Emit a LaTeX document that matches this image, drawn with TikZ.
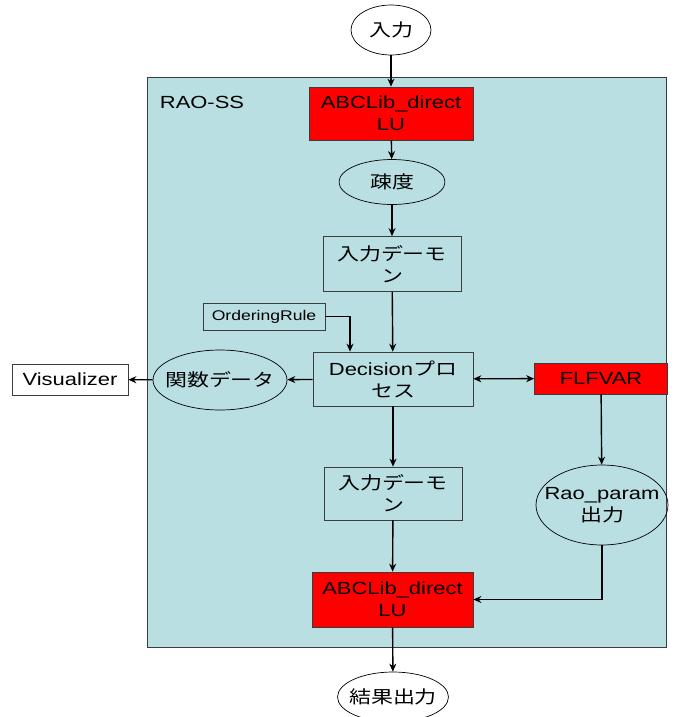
\documentclass[tikz,border=0pt]{standalone}
\usepackage{fontspec}
\setmainfont{Liberation Sans}[FakeStretch=1.25]
\newfontfamily\jp{Noto Sans CJK JP}[FakeStretch=1.25]
\usetikzlibrary{positioning, arrows.meta, shapes.geometric}
\definecolor{raobg}{HTML}{B9DFE3}
\definecolor{boxline}{HTML}{3C3C3C}

\begin{document}
\begin{tikzpicture}[x=0.02cm, y=-0.02cm,
    font=\fontsize{10}{12.5}\selectfont,
    box/.style={draw=boxline, align=center, inner sep=1pt},
    redbox/.style={box, fill=red},
    oval/.style={ellipse, draw=black, inner sep=0pt},
    arr/.style={-{Stealth[length=1.6mm, width=1.4mm]}, line width=0.8pt},
    arrs/.style={{Stealth[length=1.6mm, width=1.4mm]}-{Stealth[length=1.6mm, width=1.4mm]}, line width=0.8pt}]
    \useasboundingbox (0,0) rectangle (675,717);
    \draw[boxline, fill=raobg] (147,77) rectangle (666,647);
    \node (raoss) at (202,102) {RAO-SS};

    \node[oval, fill=white, minimum width=1.6cm, minimum height=1cm, label={center:{\jp 入力}}] (in) at (391,30) {};
    \node[redbox, minimum width=3.28cm, minimum height=1.06cm] (lu1) at (391,113.5) {ABCLib\_direct\\LU};
    \node[oval, minimum width=2.12cm, minimum height=0.9cm, label={center:{\jp 疎度}}] (sparse) at (392,182) {};
    \node[box, minimum width=2.76cm, minimum height=1.1cm] (dem1) at (392,264) {{\jp 入力デーモ}\\{\jp ン}};
    \node[box, minimum width=2.44cm, minimum height=0.54cm, font=\fontsize{8}{10}\selectfont] (rule) at (264,316.5) {OrderingRule};
    \node[box, minimum width=3.2cm, minimum height=1.08cm] (dec) at (393,379) {Decision{\jp プロ}\\{\jp セス}};
    \node[oval, minimum width=2.68cm, minimum height=1.2cm, label={center:{\jp 関数データ}}] (func) at (220,380) {};
    \node[box, fill=white, minimum width=2.32cm, minimum height=0.62cm] (vis) at (70,379.5) {Visualizer};
    \node[redbox, minimum width=2.66cm, minimum height=0.62cm] (flf) at (601,378.5) {FLFVAR};
    \node[oval, minimum width=2.64cm, minimum height=1.6cm, label={[align=center]center:Rao\_param\\{\jp 出力}}] (rao) at (602,505) {};
    \node[box, minimum width=2.76cm, minimum height=1.06cm] (dem2) at (393,493.5) {{\jp 入力デーモ}\\{\jp ン}};
    \node[redbox, minimum width=3.22cm, minimum height=1.1cm] (lu2) at (392.5,599.5) {ABCLib\_direct\\LU};
    \node[oval, fill=white, minimum width=2.22cm, minimum height=1cm, label={center:{\jp 結果出力}}] (out) at (393,697) {};

    \foreach \a/\b in {in/lu1, lu1/sparse, sparse/dem1, dem1/dec, dec/dem2, dem2/lu2, lu2/out, flf/rao, dec/func, func/vis}
        \draw[arr] (\a) -- (\b);
    \draw[arrs] (dec) -- (flf);
    \draw[arr] (rule) -| ([xshift=-0.86cm]dec.north);
    \draw[arr] (rao) |- (lu2);
\end{tikzpicture}
\end{document}
